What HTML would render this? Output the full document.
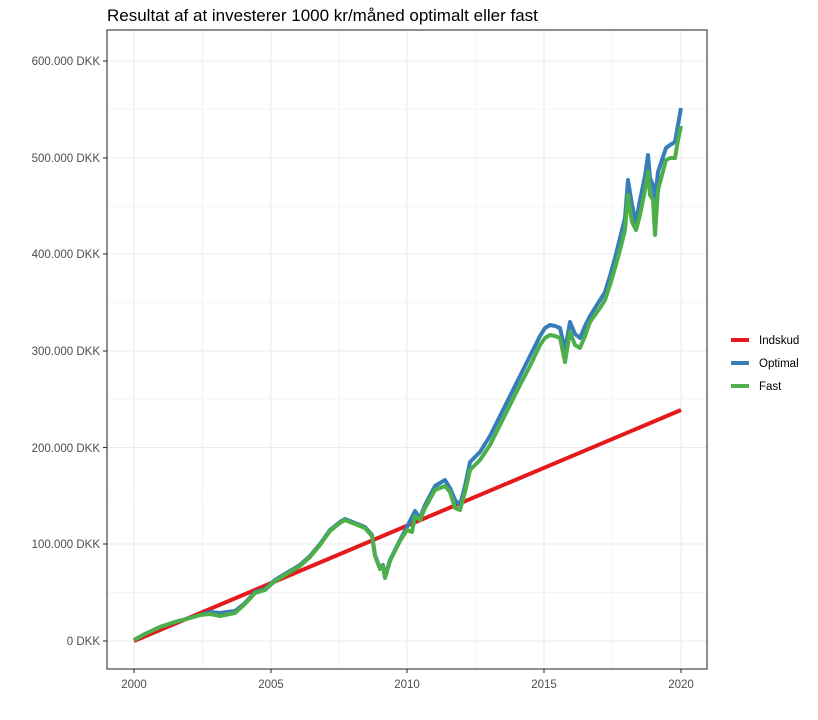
<!DOCTYPE html>
<html><head><meta charset="utf-8"><style>
body{margin:0;background:#fff;width:818px;height:715px;overflow:hidden;font-family:"Liberation Sans",Arial,sans-serif}
</style></head><body>
<svg width="818" height="715" xmlns="http://www.w3.org/2000/svg" font-family="Liberation Sans, Arial, sans-serif">
<text x="107" y="21" font-size="17" fill="#000">Resultat af at investerer 1000 kr/måned optimalt eller fast</text>
<g stroke="#ebebeb" stroke-width="0.6">
<line x1="107" x2="707" y1="592.5" y2="592.5"/><line x1="107" x2="707" y1="496" y2="496"/><line x1="107" x2="707" y1="399" y2="399"/><line x1="107" x2="707" y1="302.5" y2="302.5"/><line x1="107" x2="707" y1="206" y2="206"/><line x1="107" x2="707" y1="109" y2="109"/>
<line y1="30" y2="669" x1="202.5" x2="202.5"/><line y1="30" y2="669" x1="339" x2="339"/><line y1="30" y2="669" x1="475.5" x2="475.5"/><line y1="30" y2="669" x1="612.5" x2="612.5"/>
</g>
<g stroke="#ebebeb" stroke-width="1.1">
<line x1="107" x2="707" y1="641" y2="641"/><line x1="107" x2="707" y1="544" y2="544"/><line x1="107" x2="707" y1="447.5" y2="447.5"/><line x1="107" x2="707" y1="351" y2="351"/><line x1="107" x2="707" y1="254" y2="254"/><line x1="107" x2="707" y1="158" y2="158"/><line x1="107" x2="707" y1="61" y2="61"/>
<line y1="30" y2="669" x1="134" x2="134"/><line y1="30" y2="669" x1="271" x2="271"/><line y1="30" y2="669" x1="407" x2="407"/><line y1="30" y2="669" x1="544" x2="544"/><line y1="30" y2="669" x1="681" x2="681"/>
</g>
<line x1="134" y1="641" x2="681" y2="410" stroke="#e41a1c" stroke-width="4"/>
<polyline id="opt" fill="none" stroke="#377eb8" stroke-width="4" stroke-linejoin="round" points="134,640 145,634 160,627 175,622 190,618 200,615 210,612 220,613 235,611 245,603 255,592 265,589 275,580 285,574 300,565 310,556 320,544 330,530 340,522 345,519 355,523 365,527 372,535 375,555 380,568 383,565 385,577 390,560 400,540 407,527 415,511 420,518 425,505 435,486 445,480 450,488 455,500 460,505 465,486 470,462 480,452 490,436 500,416 510,396 520,376 530,356 540,336 545,328 550,325 555,326 560,328 565,350 570,322 575,334 580,338 585,326 590,316 600,300 605,292 610,276 615,258 620,238 625,218 628,180 632,205 636,222 640,200 645,176 648,155 650,178 653,185 655,200 658,172 662,160 666,148 670,145 675,142 678,125 681,108"/>
<polyline fill="none" stroke="#4daf4a" stroke-width="4" stroke-linejoin="round" points="134,640 145,634 160,627 175,622 190,618 200,615 210,614 220,616 235,613 245,604 255,593 265,590 275,581 285,575 300,566 310,557 320,545 330,531 340,523 345,520 355,524 365,528 372,536 375,556 380,569 383,566 385,578 390,561 400,541 407,530 412,532 415,516 420,520 425,508 435,490 445,486 450,492 455,508 460,510 465,492 470,470 480,460 490,445 500,425 510,405 520,385 530,366 540,345 545,338 550,335 555,336 560,338 565,362 570,332 575,345 580,348 585,336 590,322 600,308 605,300 610,285 615,268 620,250 625,230 628,195 632,222 636,230 640,215 645,190 648,172 650,195 653,200 655,235 658,190 662,175 666,160 670,158 675,158 678,140 681,126"/>
<rect x="107" y="30" width="600" height="639" fill="none" stroke="#333" stroke-width="1.1"/>
<g stroke="#333" stroke-width="1.1">
<line x1="103" x2="107" y1="641" y2="641"/><line x1="103" x2="107" y1="544" y2="544"/><line x1="103" x2="107" y1="447.5" y2="447.5"/><line x1="103" x2="107" y1="351" y2="351"/><line x1="103" x2="107" y1="254" y2="254"/><line x1="103" x2="107" y1="158" y2="158"/><line x1="103" x2="107" y1="61" y2="61"/>
<line y1="669" y2="673" x1="134" x2="134"/><line y1="669" y2="673" x1="271" x2="271"/><line y1="669" y2="673" x1="407" x2="407"/><line y1="669" y2="673" x1="544" x2="544"/><line y1="669" y2="673" x1="681" x2="681"/>
</g>
<g font-size="11.5" fill="#4d4d4d" text-anchor="end">
<text x="100" y="645">0 DKK</text><text x="100" y="548">100.000 DKK</text><text x="100" y="452">200.000 DKK</text><text x="100" y="355">300.000 DKK</text><text x="100" y="258">400.000 DKK</text><text x="100" y="162">500.000 DKK</text><text x="100" y="65">600.000 DKK</text>
</g>
<g font-size="11.5" fill="#4d4d4d" text-anchor="middle">
<text x="134" y="688">2000</text><text x="271" y="688">2005</text><text x="407" y="688">2010</text><text x="544" y="688">2015</text><text x="681" y="688">2020</text>
</g>
<g stroke-width="4">
<line x1="731" x2="749" y1="340" y2="340" stroke="#e41a1c"/><line x1="731" x2="749" y1="363" y2="363" stroke="#377eb8"/><line x1="731" x2="749" y1="386" y2="386" stroke="#4daf4a"/>
</g>
<g font-size="11.5" fill="#000">
<text x="759" y="344">Indskud</text><text x="759" y="367">Optimal</text><text x="759" y="390">Fast</text>
</g>
</svg>
</body></html>
